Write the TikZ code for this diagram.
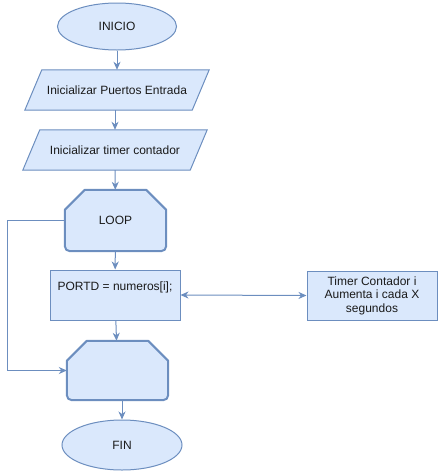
\documentclass[tikz,border=0pt]{standalone}
\usepackage{fontspec}
\setmainfont{Liberation Sans}
\usetikzlibrary{shapes.geometric,arrows.meta}
\definecolor{fillb}{HTML}{DAE8FC}
\definecolor{strokeb}{HTML}{6C8EBF}
\definecolor{txt}{HTML}{1A1A1A}
\tikzset{
  base/.style={draw=strokeb, fill=fillb, line width=1pt, inner sep=0pt, text=txt,
    font=\fontsize{12}{13.5}\selectfont},
  term/.style={base, ellipse},
  rectbox/.style={base, rectangle, align=center},
  holder/.style={rectangle, inner sep=0pt, text=txt, font=\fontsize{12}{13.5}\selectfont},
  parashape/.style={draw=strokeb, fill=fillb, line width=1pt},
  loopshape/.style={draw=strokeb, fill=fillb, line width=2pt, line join=round},
  arr/.style={draw=strokeb, line width=1pt, -{Stealth[length=8pt,width=7pt,inset=2.5pt]}},
  arrboth/.style={draw=strokeb, line width=1pt, {Stealth[length=8pt,width=7pt,inset=2.5pt]}-{Stealth[length=8pt,width=7pt,inset=2.5pt]}}
}
\begin{document}
\begin{tikzpicture}[x=1pt,y=-1pt]
\useasboundingbox (0,0) rectangle (438,472);

\node[term, minimum width=119, minimum height=47] (inicio) at (117,26.5) {INICIO};

% parallelogram 1
\node[holder, minimum width=184, minimum height=40] (p1) at (117,90) {};
\draw[parashape] ([xshift=17pt]p1.north west) -- (p1.north east) -- ([xshift=-17pt]p1.south east) -- (p1.south west) -- cycle;
\node[holder] at (p1.center) {Inicializar Puertos Entrada};

% parallelogram 2
\node[holder, minimum width=184, minimum height=40] (p2) at (115,150) {};
\draw[parashape] ([xshift=17pt]p2.north west) -- (p2.north east) -- ([xshift=-17pt]p2.south east) -- (p2.south west) -- cycle;
\node[holder] at (p2.center) {Inicializar timer contador};

% LOOP shape
\node[holder, minimum width=101, minimum height=61] (loop) at (115.5,220.5) {};
\draw[loopshape] (loop.north) -- ([xshift=-20pt]loop.north east) -- ([yshift=-20pt]loop.north east)
  [rounded corners=5pt] -- (loop.south east) -- (loop.south west) [sharp corners]
  -- ([yshift=-20pt]loop.north west) -- ([xshift=20pt]loop.north west) -- cycle;
\node[holder] at (loop.center) {LOOP};

\node[rectbox, minimum width=130, minimum height=50] (portd) at (115,295) {PORTD = numeros[i];\\ \strut};
\node[rectbox, minimum width=130, minimum height=49] (timer) at (372,295.5) {Timer Contador i\\Aumenta i cada X\\segundos};

% end loop shape
\node[holder, minimum width=101, minimum height=59] (lend) at (117.5,370.5) {};
\draw[loopshape] (lend.north) -- ([xshift=-20pt]lend.north east) -- ([yshift=-20pt]lend.north east)
  [rounded corners=5pt] -- (lend.south east) -- (lend.south west) [sharp corners]
  -- ([yshift=-20pt]lend.north west) -- ([xshift=20pt]lend.north west) -- cycle;

\node[term, minimum width=120, minimum height=50] (fin) at (122,445) {FIN};

% connectors
\draw[arr] (inicio) -- (p1);
\draw[arr] (p1.south -| p2.north) -- (p2.north);
\draw[arr] (p2) -- (loop);
\draw[arr] (loop) -- (portd);
\draw[arr] (portd) -- (lend);
\draw[arr] (lend.south -| fin.north) -- (fin.north);
\draw[arrboth] (portd.east) -- (timer.west);
\draw[arr] (loop.west) -- ++(-57,0) |- (lend.west);
\end{tikzpicture}
\end{document}
